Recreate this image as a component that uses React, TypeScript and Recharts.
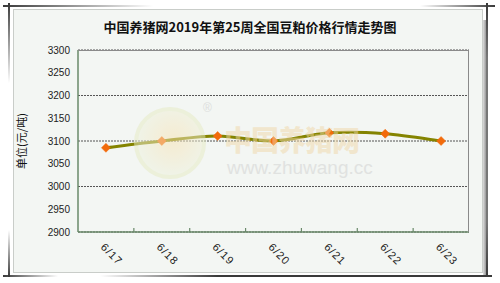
import React from "react";
import { LineChart, Line, XAxis, YAxis, CartesianGrid } from "recharts";

const days = ["6/17", "6/18", "6/19", "6/20", "6/21", "6/22", "6/23"];
const prices = [3085, 3100, 3111, 3100, 3118, 3116, 3100];
const yTicks = [2900, 2950, 3000, 3050, 3100, 3150, 3200, 3250, 3300];

const rows = days.map((d, i) => ({ day: d, price: prices[i] }));

const W = 500;
const H = 283;
const PLOT_L = 78;
const PLOT_R = 469;
const PLOT_T = 50;
const PLOT_B = 232;
const BAND = (PLOT_R - PLOT_L) / days.length;
const AXIS = "#6a8a6a";
const FONT = "Arial, 'Liberation Sans', sans-serif";
const CJK = "'Noto Sans CJK SC', sans-serif";

// excel-style smoothed line (catmull-rom through every point)
function smoothCurve(ctx: any) {
  let pts: number[][] = [];
  return {
    areaStart() {},
    areaEnd() {},
    lineStart() { pts = []; },
    point(x: number, y: number) { pts.push([+x, +y]); },
    lineEnd() {
      if (!pts.length) return;
      ctx.moveTo(pts[0][0], pts[0][1]);
      for (let i = 0; i < pts.length - 1; i++) {
        const p0 = pts[Math.max(i - 1, 0)];
        const p1 = pts[i];
        const p2 = pts[i + 1];
        const p3 = pts[Math.min(i + 2, pts.length - 1)];
        ctx.bezierCurveTo(
          p1[0] + (p2[0] - p0[0]) / 6, p1[1] + (p2[1] - p0[1]) / 6,
          p2[0] - (p3[0] - p1[0]) / 6, p2[1] - (p3[1] - p1[1]) / 6,
          p2[0], p2[1],
        );
      }
    },
  };
}

function Diamond(props: any) {
  const { cx, cy } = props;
  if (cx == null || cy == null) return null;
  const r = 4.5;
  return (
    <polygon
      points={`${cx},${cy - r} ${cx + r},${cy} ${cx},${cy + r} ${cx - r},${cy}`}
      fill="#f26b0c"
      stroke="#f26b0c"
      strokeWidth={0.5}
    />
  );
}

function DayTick(props: any) {
  const { x, payload, index } = props;
  const y = PLOT_B;
  const tx = x + 6;
  const ty = y + 22;
  return (
    <g>
      {index < days.length - 1 && (
        <line x1={x + BAND / 2} x2={x + BAND / 2} y1={y} y2={y - 4} stroke={AXIS} strokeWidth={1.2} />
      )}
      <text
        x={tx}
        y={ty}
        transform={`rotate(45 ${tx} ${ty})`}
        textAnchor="middle"
        dominantBaseline="central"
        fontSize={11}
        letterSpacing={1}
        fontFamily={FONT}
        fill="#222"
      >
        {payload.value}
      </text>
    </g>
  );
}

function Frame() {
  const dark = "#3a3a3a";
  return (
    <>
      {/* decorative corner strokes */}
      <div style={{ position: "absolute", left: 3, top: 5, width: 150, height: 2, background: `linear-gradient(to right, ${dark}, rgba(60,60,60,0))` }} />
      <div style={{ position: "absolute", left: 8, top: 3, width: 2, height: 80, background: `linear-gradient(to bottom, ${dark}, rgba(60,60,60,0))` }} />
      <div style={{ position: "absolute", left: 420, top: 5, width: 75, height: 2, background: `linear-gradient(to left, ${dark}, rgba(60,60,60,0))` }} />
      <div style={{ position: "absolute", left: 486, top: 3, width: 2, height: 274, background: `linear-gradient(to bottom, ${dark}, #777 20%, #777 80%, ${dark})` }} />
      <div style={{ position: "absolute", left: 483, top: 20, width: 3, height: 256, background: "linear-gradient(to right, #ddd, #999)" }} />
      <div style={{ position: "absolute", left: 100, top: 275, width: 392, height: 2, background: `linear-gradient(to right, rgba(60,60,60,0), ${dark} 30%)` }} />
      <div style={{ position: "absolute", left: 3, top: 275, width: 55, height: 2, background: `linear-gradient(to left, rgba(60,60,60,0), ${dark})` }} />
      <div style={{ position: "absolute", left: 8, top: 230, width: 2, height: 47, background: `linear-gradient(to top, ${dark}, rgba(60,60,60,0))` }} />
      {/* panel */}
      <div style={{ position: "absolute", left: 13, top: 9, width: 470, height: 264, boxSizing: "border-box", background: "#f3f6f3", border: "1px solid #c9cdc9" }} />
    </>
  );
}

function Watermark() {
  return (
    <div style={{ position: "absolute", left: 0, top: 0, width: W, height: H, pointerEvents: "none", opacity: 0.5 }}>
      <div style={{ position: "absolute", left: 134, top: 107, width: 72, height: 72, borderRadius: "50%", border: "4px solid #e6ebc2", boxSizing: "border-box", background: "radial-gradient(circle at 55% 45%, #f7e2b0, #eef1dc 70%)" }} />
      <div style={{ position: "absolute", left: 203, top: 102, fontSize: 12, lineHeight: "12px", fontFamily: FONT, color: "#c8c8c8" }}>®</div>
      <div style={{ position: "absolute", left: 224, top: 124, fontSize: 28, lineHeight: "30px", fontWeight: 900, fontFamily: CJK, color: "#f0d8a8", letterSpacing: -1 }}>中国养猪网</div>
      <div style={{ position: "absolute", left: 227, top: 158, fontSize: 19, lineHeight: "19px", fontFamily: FONT, color: "#cfcfcf" }}>www.zhuwang.cc</div>
    </div>
  );
}

export default function App() {
  return (
    <div style={{ position: "absolute", left: 0, top: 0, width: W, height: H, background: "#fff", overflow: "hidden" }}>
      <Frame />
      <div style={{ position: "absolute", left: 0, top: 19, width: W, textAlign: "center", fontSize: 13, lineHeight: "16px", fontWeight: 700, fontFamily: CJK, color: "#111" }}>
        中国养猪网2019年第25周全国豆粕价格行情走势图
      </div>
      <div
        style={{
          position: "absolute", left: 21, top: 141, transform: "translate(-50%, -50%) rotate(-90deg)",
          whiteSpace: "nowrap", fontSize: 11, fontFamily: CJK, color: "#111",
        }}
      >
        单位(元/吨)
      </div>
      <div style={{ position: "absolute", left: 0, top: 0 }}>
        <LineChart width={W} height={H} data={rows} margin={{ top: PLOT_T, right: W - PLOT_R, bottom: 0, left: 0 }}>
          <CartesianGrid vertical={false} stroke="#555" strokeDasharray="2 1" />
          <XAxis
            dataKey="day"
            scale="band"
            height={H - PLOT_B}
            tickSize={0}
            tickMargin={0}
            interval={0}
            axisLine={{ stroke: AXIS, strokeWidth: 1.5 }}
            tick={<DayTick />}
          />
          <YAxis
            domain={[2900, 3300]}
            ticks={yTicks}
            width={PLOT_L}
            tickLine={false}
            axisLine={{ stroke: AXIS, strokeWidth: 1.5 }}
            tick={{ fontSize: 10, fontFamily: FONT, fill: "#222" }}
          />
          <Line
            dataKey="price"
            type={smoothCurve as any}
            stroke="#848400"
            strokeWidth={3}
            dot={<Diamond />}
            activeDot={false}
            isAnimationActive={false}
          />
        </LineChart>
      </div>
      <div style={{ position: "absolute", left: PLOT_L, top: PLOT_T, width: PLOT_R - PLOT_L, height: PLOT_B - PLOT_T, boxSizing: "border-box", borderTop: "1px solid #8a8a8a", borderRight: "1px solid #8a8a8a", pointerEvents: "none" }} />
      <Watermark />
    </div>
  );
}
